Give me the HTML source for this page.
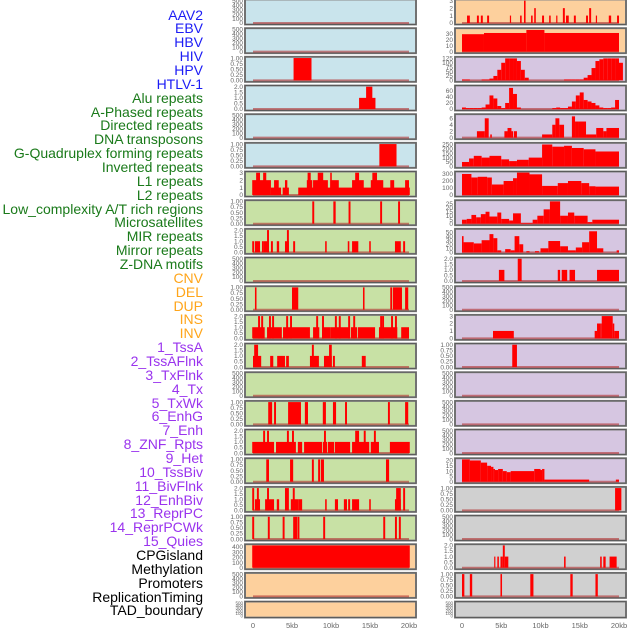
<!DOCTYPE html>
<html><head><meta charset="utf-8">
<style>
html,body{margin:0;padding:0;background:#fff;}
#wrap{position:relative;width:630px;height:630px;overflow:hidden;}
.lbl{position:absolute;right:427px;font-family:"Liberation Sans",sans-serif;font-size:14px;line-height:14px;white-space:nowrap;text-align:right;}
svg{position:absolute;left:0;top:0;}
</style></head>
<body>
<div id="wrap">
<div id="labels"></div>
<svg id="chart" width="630" height="630"></svg>
</div>
<script>
// ---------- labels ----------
const labelNames = ["AAV2","EBV","HBV","HIV","HPV","HTLV-1","Alu repeats","A-Phased repeats","Directed repeats","DNA transposons","G-Quadruplex forming repeats","Inverted repeats","L1 repeats","L2 repeats","Low_complexity A/T rich regions","Microsatellites","MIR repeats","Mirror repeats","Z-DNA motifs","CNV","DEL","DUP","INS","INV","1_TssA","2_TssAFlnk","3_TxFlnk","4_Tx","5_TxWk","6_EnhG","7_Enh","8_ZNF_Rpts","9_Het","10_TssBiv","11_BivFlnk","12_EnhBiv","13_ReprPC","14_ReprPCWk","15_Quies","CPGisland","Methylation","Promoters","ReplicationTiming","TAD_boundary"];
const labelGroupSizes = [6,13,5,15,5];
const labelColors = ["#1c1cf5","#1a7a1a","#ffa51a","#9a33ee","#000000"];

// ---------- axis ----------
const xTicks = [0,5,10,15,20];
const xTickLabels = ["0","5kb","10kb","15kb","20kb"];

// ---------- tick sets ----------
const tE = ["0","100","200","300","400","500"];
const tP = ["0.00","0.25","0.50","0.75","1.00"];
const tT = ["0.0","0.5","1.0","1.5","2.0"];

// ---------- LEFT column data: [startKb, endKb, value] ----------
const L0 = [];
const L1 = [];
const L2 = [[5.2,7.5,1]];
const L3 = [[13.6,15.7,1],[14.5,15.3,2]];
const L4 = [];
const L5 = [[16.2,18.4,1]];
const L6 = [[-0.1,2.3,2],[0.4,0.9,3],[1.3,1.7,3],[2.3,3.6,1],[2.7,3.3,2],[3.8,4.6,1],[4.1,4.4,2],[5.8,20.1,1],[6.9,7.6,2],[7.0,7.4,3],[7.7,9.6,2],[8.3,9.0,3],[9.9,11.0,2],[9.9,10.1,3],[12.7,14.2,2],[13.1,13.6,3],[15.1,16.7,2],[15.3,15.9,3],[17.6,18.1,2],[19.5,20.0,2]];
const L7 = [[7.6,7.85,1],[10.3,10.6,1],[12.25,12.5,1],[16.3,16.55,1],[18.6,18.85,1]];
const L8 = [[-0.1,0.15,1],[0.25,0.9,1],[1.15,1.4,1],[1.4,2.05,1],[1.8,2.05,2],[2.3,2.55,1],[3.05,3.35,1],[4.1,4.6,1],[4.35,4.6,2],[5.15,5.4,1],[9.25,9.45,1],[12.15,12.35,1],[12.7,13.5,1],[14.9,15.1,1],[18.2,18.95,1],[19.25,19.5,1]];
const L9 = [];
const L10 = [[0.25,0.45,1],[5.0,5.8,1],[14.1,14.3,1],[17.6,17.85,1],[17.95,19.1,1],[19.5,19.9,1]];
const L11 = [[-0.1,1.5,1],[1.8,3.7,1],[3.85,7.3,1],[7.7,8.5,1],[8.85,9.9,1],[9.9,12.4,1],[12.55,13.35,1],[13.45,15.65,1],[16.15,18.5,1],[19.0,20.0,1],[0.65,0.9,2],[1.05,1.3,2],[2.05,2.3,2],[2.45,2.7,2],[4.25,4.5,2],[4.75,5.0,2],[8.1,8.35,2],[8.85,9.1,2],[10.5,10.75,2],[11.0,11.25,2],[12.2,12.45,2],[12.85,13.1,2],[16.3,16.55,2],[16.55,16.8,2],[17.7,17.95,2],[18.2,18.45,2]];
const L12 = [[0,1.05,1],[0.15,0.65,2],[2.2,2.6,1],[3.1,4.1,1],[4.25,4.6,1],[7.3,8.45,1],[7.55,7.8,2],[9.1,10.1,1],[9.75,10.1,2],[10.25,10.5,1],[13.95,14.45,1]];
const L13 = [];
const L14 = [[1.95,2.45,1],[2.7,2.95,1],[4.5,6.15,1],[6.65,7.05,1],[8.95,9.35,1],[10.25,10.65,1],[11.8,12.05,1],[17.3,17.55,1],[19.5,19.9,1]];
const L15 = [[-0.1,2.7,1],[2.95,5.5,1],[5.75,6.3,1],[6.55,8.85,1],[8.95,9.5,1],[9.6,10.4,1],[10.5,12.45,1],[12.7,14.9,1],[15.1,16.15,1],[17.55,20.1,1],[1.3,1.55,2],[1.8,2.05,2],[4.35,4.6,2],[5.0,5.25,2],[9.1,9.35,2],[13.1,13.6,2],[14.2,14.45,2],[15.5,15.75,2]];
const L16 = [[1.7,2.05,1],[4.75,5.15,1],[7.55,7.8,1],[8.35,8.6,1],[8.7,9.1,1],[17.05,17.45,1]];
const L17 = [[-0.1,0.15,2],[0.25,0.9,1],[0.5,0.75,2],[1.55,2.7,1],[1.8,2.05,2],[3.05,3.35,1],[4.1,4.6,2],[4.85,5.8,1],[5.1,5.35,2],[5.8,6.3,1],[9.25,9.45,1],[10.5,10.9,1],[11.65,12.05,1],[12.2,12.45,1],[12.7,13.6,1],[14.9,15.1,1],[18.2,18.95,1],[18.35,18.95,2],[19.25,19.5,2]];
const L18 = [[-0.1,0.15,1],[1.9,2.15,1],[3.8,4.05,1],[5.15,5.65,1],[5.7,5.95,1],[9.0,9.25,1],[16.7,16.95,1],[18.2,18.45,1],[18.7,18.95,1]];
const L19 = [[-0.1,20.1,430]];
const L20 = [];
const L21 = [];

// ---------- RIGHT column data ----------
const R0 = [[0.64,1.0,1],[1.9,2.15,1],[2.4,2.65,1],[3.2,3.45,1],[6.1,6.25,1],[7.4,7.6,1],[7.9,8.1,3],[8.8,9.0,1],[9.2,9.4,2],[10.2,10.45,1],[11.1,11.3,1],[12.0,12.1,1],[12.85,13.1,2],[13.25,13.6,1],[14.25,14.5,1],[15.8,16.05,1],[16.2,16.45,2],[17.05,17.2,1],[18.7,19.0,1],[19.75,20.0,1]];
const R1 = [[0,2.8,29],[2.8,8.2,31],[8.2,10.5,36],[10.5,20.0,31]];
// binned 0.5kb values
const R2bins = [5,5,0,0,0,5,5,10,25,60,100,125,125,125,110,60,15,0,0,0,0,0,0,0,0,0,5,5,5,5,5,15,30,70,110,120,125,125,125,125,100];
const R3bins = [5,3,3,3,3,5,15,45,35,10,3,20,70,50,5,0,0,0,0,0,0,0,0,3,5,3,3,8,25,45,55,30,25,20,12,5,3,3,5,30,0];
const R4 = [[1.9,2.9,2],[2.9,3.4,6],[3.6,3.8,1],[5.4,5.8,2],[5.8,6.3,3],[6.3,6.5,2],[6.6,7.0,2],[10.2,11.5,1],[11.5,11.9,4],[11.9,12.4,6],[12.4,13.0,4],[14.0,14.4,6.6],[14.4,14.9,5],[14.9,15.8,5],[15.8,17.1,1],[17.1,18.0,3],[18.0,18.4,2],[18.4,20.0,3]];
const R5 = [[0,0.9,50],[0.9,1.5,90],[1.5,2.5,120],[2.5,3.5,100],[3.5,5.0,120],[5.0,6.0,80],[6.0,7.0,60],[7.0,8.5,75],[8.5,10.2,100],[10.2,11.5,250],[11.5,13.0,225],[13.0,14.0,235],[14.0,15.5,210],[15.5,17.0,195],[17.0,20.0,170]];
const R6 = [[0,1.2,300],[1.2,2.0,250],[2.0,3.2,260],[3.2,3.8,250],[3.8,5.3,150],[5.3,6.5,200],[6.5,7.0,240],[7.0,8.6,320],[8.6,10.2,295],[10.2,12.2,130],[12.2,13.5,170],[13.5,15.2,200],[15.2,16.2,170],[16.2,17.0,125],[17.0,20.0,120]];
const R7 = [[0,0.6,5],[0.6,1.2,6],[1.2,1.8,11],[1.8,2.4,8],[2.4,3.0,12],[3.0,3.5,15],[3.5,4.5,9],[4.5,5.0,14],[5.0,6.0,6],[6.0,6.5,4],[6.5,7.5,13],[7.5,9.0,1],[9.0,9.6,5],[9.6,10.4,10],[10.4,11.2,18],[11.2,12.5,28],[12.5,13.5,10],[13.5,14.3,14],[14.3,16.0,10],[16.0,16.6,2],[16.6,20.0,5]];
const R8 = [[0,0.2,40],[0.2,1.5,25],[1.5,2.5,22],[2.5,3.5,30],[3.5,4.0,45],[4.0,4.5,35],[4.5,5.0,5],[5.5,6.2,8],[6.2,6.7,5],[6.7,7.3,40],[7.3,7.8,20],[8.2,8.6,3],[9.3,9.8,3],[10.0,11.0,10],[11.0,12.5,28],[12.5,13.5,15],[13.5,14.5,5],[14.5,15.3,12],[15.3,16.2,25],[16.2,17.2,52],[17.2,18.0,10],[19.7,20.0,5]];
const R9 = [[4.7,5.4,1],[7.1,7.6,2],[12.2,12.5,1],[12.7,13.4,1],[13.7,14.4,1],[17.2,20.0,1]];
const R10 = [];
const R11 = [[3.95,6.6,1],[16.9,17.2,1],[17.2,17.6,2],[17.6,17.8,2],[17.8,19.2,3],[19.2,19.4,2],[19.4,20.0,1]];
const R12 = [[6.4,7.0,1]];
const R13 = [];
const R14 = [];
const R15 = [];
const R16 = [[0,1.0,21],[1.0,2.4,20],[2.4,3.2,18],[3.2,3.7,15],[3.7,4.0,14],[4.0,4.2,12],[4.2,4.6,11],[4.6,5.2,12],[5.2,5.7,10],[5.7,6.2,9],[6.2,9.2,10],[9.2,10.0,12],[10.0,10.2,11],[10.2,10.5,12],[10.5,16.2,2],[19.6,20.0,2]];
const R17 = [[19.5,20.3,1]];
const R18 = [];
const R19 = [[4.1,4.25,1],[4.5,4.7,1],[4.9,5.2,1],[5.2,5.45,2],[5.45,5.9,1],[13.0,13.2,1],[17.6,17.8,1],[18.0,18.3,1],[18.8,19.7,1]];
const R20 = [[0,0.3,1],[1.0,1.3,1],[4.9,5.1,1],[8.7,9.1,1],[13.8,14.1,1],[17.0,17.3,1]];
const R21 = [];

function binsToSegs(b){return b.map((v,i)=>[i*0.5,i*0.5+0.5,v]);}
const R2 = binsToSegs(R2bins);
const R3 = binsToSegs(R3bins);

const leftPanels = [
 [L0,500,tE],[L1,500,tE],[L2,1,tP],[L3,2,tT],[L4,500,tE],[L5,1,tP],[L6,3,["0","1","2","3"]],[L7,1,tP],[L8,2,tT],[L9,500,tE],[L10,1,tP],[L11,2,tT],[L12,2,tT],[L13,500,tE],[L14,1,tP],[L15,2,tT],[L16,1,tP],[L17,2,tT],[L18,1,tP],[L19,430,["0","100","200","300","400"]],[L20,500,tE],[L21,500,tE]];
const rightPanels = [
 [R0,3,["0","1","2","3"]],[R1,37,["0","10","20","30"]],[R2,127,["0","25","50","75","100","125"]],[R3,74,["0","20","40","60"]],[R4,6.9,["0","2","4","6"]],[R5,255,["0","50","100","150","200","250"]],[R6,318,["0","100","200","300"]],[R7,28,["0","5","10","15","20","25"]],[R8,55,["0","10","20","30","40","50"]],[R9,2,tT],[R10,500,tE],[R11,3,["0","1","2","3"]],[R12,1,tP],[R13,500,tE],[R14,500,tE],[R15,500,tE],[R16,21,["0","5","10","15","20"]],[R17,1,tP],[R18,500,tE],[R19,2,tT],[R20,1,tP],[R21,500,tE]];
const leftBg = ["#c9e4ec","#c9e4ec","#c9e4ec","#c9e4ec","#c9e4ec","#c9e4ec","#c8e1a5","#c8e1a5","#c8e1a5","#c8e1a5","#c8e1a5","#c8e1a5","#c8e1a5","#c8e1a5","#c8e1a5","#c8e1a5","#c8e1a5","#c8e1a5","#c8e1a5","#fdd09d","#fdd09d","#fdd09d"];
const rightBg = ["#fdd09d","#fdd09d","#d6c6e1","#d6c6e1","#d6c6e1","#d6c6e1","#d6c6e1","#d6c6e1","#d6c6e1","#d6c6e1","#d6c6e1","#d6c6e1","#d6c6e1","#d6c6e1","#d6c6e1","#d6c6e1","#d6c6e1","#d0d0d0","#d0d0d0","#d0d0d0","#d0d0d0","#d0d0d0"];

// ---------- render labels ----------
const labDiv = document.getElementById('labels');
let k = 0;
labelGroupSizes.forEach((n,g)=>{
  for(let j=0;j<n;j++){
    const d = document.createElement('div');
    d.className='lbl';
    d.textContent = labelNames[k];
    d.style.top = (15 + 13.86*k - 7.5)+'px';
    d.style.color = labelColors[g];
    
    
    labDiv.appendChild(d);
    k++;
  }
});

// ---------- render panels ----------
const NS='http://www.w3.org/2000/svg';
const svg=document.getElementById('chart');
function mk(tag,attrs){const e=document.createElementNS(NS,tag);for(const a in attrs)e.setAttribute(a,attrs[a]);return e;}
const PITCH=28.67;
function drawColumn(panels,bgs,px,pw,x0,xs,tickX){
  panels.forEach((p,i)=>{
    const [data,ymax,ticks]=p;
    const top=i*PITCH-0.5;
    const PH = (i===panels.length-1) ? 16 : 25;
    const y0=top+PH-1.5, y1=top+1.2;
    const ys=v=>y0-(v/ymax)*(y0-y1);
    const xk=kb=>x0+kb*xs;
    const fs = PH<20 ? 4.5 : 6.5;
    const g=mk('g',{});
    
    
    svg.appendChild(g);
    const bg=mk('rect',{x:px,y:top,width:pw,height:PH,fill:bgs[i],stroke:'#8a8a8a','stroke-width':2});
    
    
    g.appendChild(bg);
    if(PH>=20){
      const bl=mk('line',{x1:xk(0),x2:xk(20),y1:y0,y2:y0,stroke:'#b03030','stroke-width':2,'stroke-opacity':0.6});
      
      
      g.appendChild(bl);
    }
    data.forEach(s=>{
      const v=Math.min(s[2],ymax*1.02);
      const r=mk('rect',{x:xk(s[0]),y:ys(v),width:Math.max(1.2,(s[1]-s[0])*xs),height:Math.max(0,y0-ys(v)),fill:'#ff0000'});
      
      
      g.appendChild(r);
    });
    const border=mk('rect',{x:px,y:top,width:pw,height:PH,fill:'none',stroke:'#5a5a5a','stroke-width':1});
    
    
    g.appendChild(border);
    ticks.forEach(t=>{
      const tx=mk('text',{x:tickX,y:ys(parseFloat(t))+fs*0.34,'text-anchor':'end','font-family':'Liberation Sans, sans-serif','font-size':fs,fill:'#666'});
      tx.textContent=t;
      
      
      g.appendChild(tx);
    });
  });
  xTicks.forEach((t,j)=>{
    const tx=mk('text',{x:x0+t*xs,y:628,'text-anchor':'middle','font-family':'Liberation Sans, sans-serif','font-size':7.5,fill:'#666'});
    tx.textContent=xTickLabels[j];
    
    
    svg.appendChild(tx);
  });
}
drawColumn(leftPanels,leftBg,245,171,253,7.8,243);
drawColumn(rightPanels,rightBg,455,171,462,7.85,453);
</script>
</body></html>
